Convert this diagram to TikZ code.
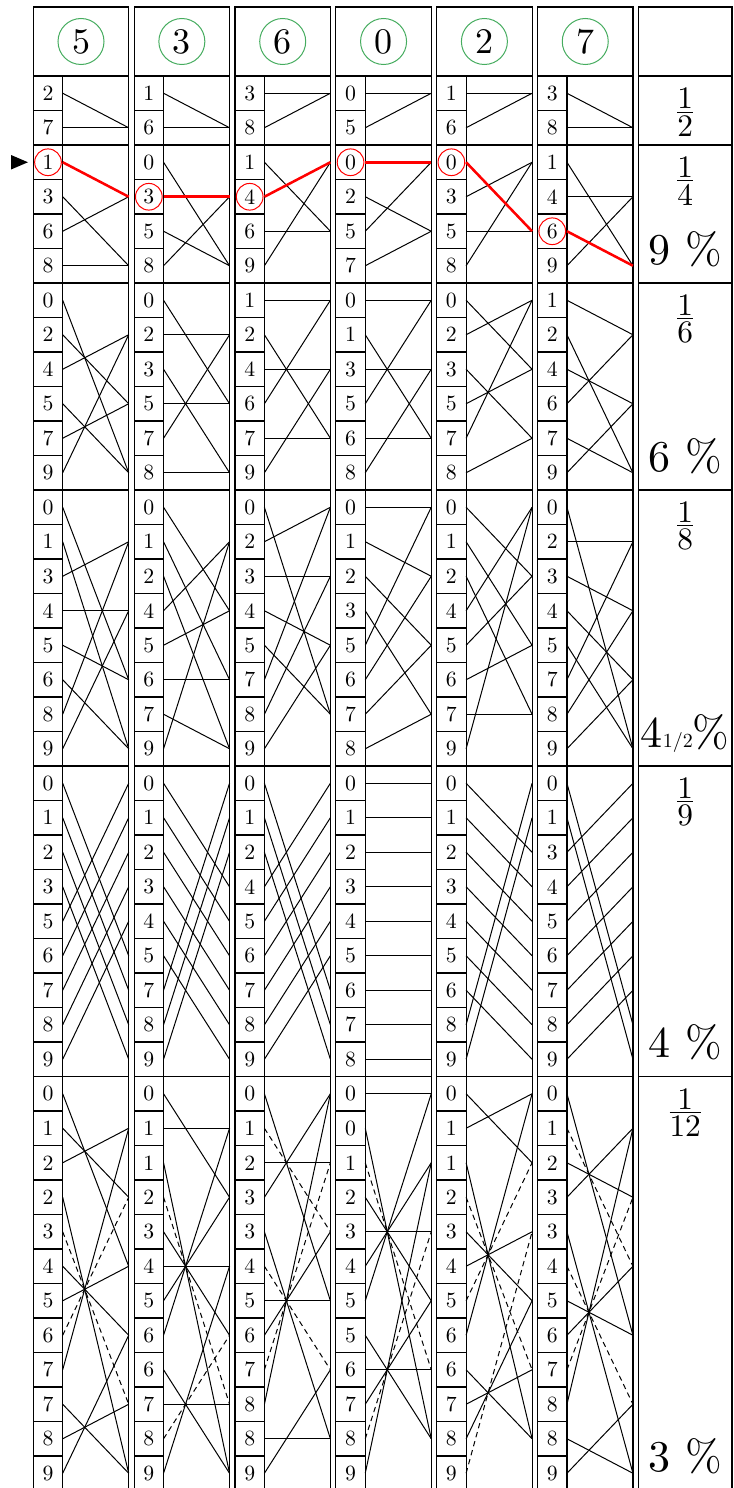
\documentclass[tikz,border=0pt]{standalone}
\definecolor{hgreen}{RGB}{70,172,95}
\font\dgf="[lmroman10-regular]" at 16.3pt
\font\hdf="[lmroman10-regular]" at 27pt
\font\frf="[lmroman10-regular]" at 23.5pt
\font\pcf="[lmroman10-regular]" at 33pt
\font\hff="[lmroman10-regular]" at 15pt
\newcommand\fracstack[2]{\vbox{\offinterlineskip\halign{\hfil##\hfil\cr#1\cr\noalign{\kern2.1pt\hrule height 0.75pt\kern2.1pt}#2\cr}}}
\begin{document}
\begin{tikzpicture}[x=0.75pt,y=-0.75pt]
\tikzset{
  frame/.style={line width=0.9pt},
  conn/.style={line width=0.75pt},
  dsh/.style={dash pattern=on 4pt off 3pt},
  hot/.style={red,line width=1.9pt},
  ring/.style={red,line width=0.75pt},
  dig/.style={inner sep=0pt,font=\dgf},
  hdr/.style={circle,draw=hgreen,line width=0.75pt,minimum size=34.5pt,inner sep=0pt,font=\hdf},
  fnum/.style={inner sep=0pt,font=\frf},
  pct/.style={inner sep=0pt,anchor=base,font=\pcf},
  % dashed lines in the 1/12 section: rod-section-row
  dsh0-12-4/.style={dsh}, dsh0-12-7/.style={dsh},
  dsh1-12-3/.style={dsh}, dsh1-12-10/.style={dsh},
  dsh2-12-1/.style={dsh}, dsh2-12-5/.style={dsh}, dsh2-12-8/.style={dsh},
  dsh3-12-2/.style={dsh}, dsh3-12-10/.style={dsh},
  dsh4-12-3/.style={dsh}, dsh4-12-6/.style={dsh}, dsh4-12-11/.style={dsh},
  dsh5-12-1/.style={dsh}, dsh5-12-5/.style={dsh}, dsh5-12-8/.style={dsh},
}
\useasboundingbox (0,0) rectangle (733,1488);
\begin{scope}
\clip (0,0) rectangle (733,1488);
\foreach \dd [count=\ii from 0] in {5,3,6,0,2,7} {
  \pgfmathsetmacro\xL{33.3+100.85*\ii}
  \pgfmathsetmacro\xR{\xL+95.4}
  \pgfmathsetmacro\xS{\xL+29.4}
  \pgfmathsetmacro\xD{\xL+14.7}
  \pgfmathsetmacro\xC{\xL+47.7}
  \draw[frame] (\xL,7) rectangle (\xR,1492);
  \draw[frame] (\xS,76) -- (\xS,1492);
  \node[hdr] (h\ii) at (\xC,41.5) {\dd};
  \foreach \nn/\st in {2/0,4/2,6/6,8/12,9/20,12/29} {
    \pgfmathsetmacro\ytop{76+34.5*\st}
    \draw[frame] (\xL,\ytop) -- (\xR,\ytop);
    \pgfmathtruncatemacro\nm{\nn-1}
    \foreach \rr in {0,...,\nm} {
      \pgfmathtruncatemacro\qq{floor((10*\rr+\dd)/\nn)}
      \pgfmathtruncatemacro\tg{mod(10*\rr+\dd,\nn)}
      \pgfmathsetmacro\yr{76+34.5*(\st+\rr+0.5)}
      \pgfmathsetmacro\yt{76+34.5*(\st+\tg+0.5)}
      \pgfmathsetmacro\yb{76+34.5*(\st+\rr+1)}
      \draw[frame] (\xL,\yb) -- (\xS,\yb);
      \node[dig] (d\ii-\nn-\rr) at (\xD,\yr) {\qq};
      \coordinate (s\ii-\nn-\rr) at (\xS,\yr);
      \coordinate (e\ii-\nn-\rr) at (\xR,\yt);
      \draw[conn,dsh\ii-\nn-\rr/.try] (s\ii-\nn-\rr) -- (e\ii-\nn-\rr);
    }
  }
}
% highlighted path (division by 4)
\foreach \ii/\rr in {0/0,1/1,2/1,3/0,4/0,5/2} {
  \draw[hot] (s\ii-4-\rr) -- (e\ii-4-\rr);
  \draw[ring] (d\ii-4-\rr) circle (10pt);
}
\fill (11,155) -- (28,162.25) -- (11,169.5) -- cycle;
% right column
\draw[frame] (638.4,7) rectangle (732,1492);
\foreach \y in {76,145,283,490,766,1076.5} \draw[frame] (638.4,\y) -- (732,\y);
\foreach \num/\den/\yb [count=\k] in {1/2/112,1/4/181,1/6/319,1/8/526,1/9/802,1/12/1112.5} {
  \node[fnum] (f\k) at (685.2,\yb) {\fracstack{\num}{\den}};
}
\node[pct] (p1) at (685.2,264) {9 \%};
\node[pct] (p2) at (685.2,471) {6 \%};
\node[pct] (p3) at (685.2,747) {4{\hff 1/2}\%};
\node[pct] (p4) at (685.2,1057.5) {4 \%};
\node[pct] (p5) at (685.2,1471.5) {3 \%};
\end{scope}
\end{tikzpicture}
\end{document}
